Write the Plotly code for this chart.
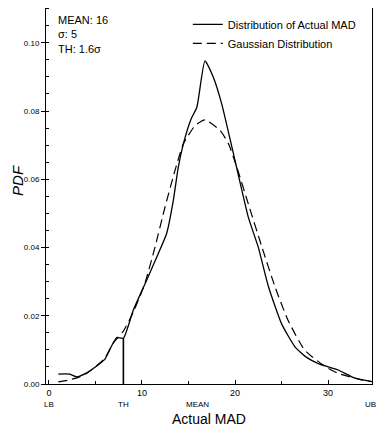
import plotly.graph_objects as go

# Distribution of actual MAD (solid)
actual_x = [1.0, 2.2, 3.0, 4.0, 4.8, 6.0, 6.8, 7.3, 8.0, 9.06, 10.5, 11.75, 12.65, 13.37, 13.9,
            14.45, 15.3, 15.9, 16.77, 17.67, 18.57, 20.0, 21.43, 22.5, 23.6, 25.0, 26.45, 27.7,
            28.96, 31.1, 32.9, 34.7]
actual_y = [0.0029, 0.0029, 0.0021, 0.0032, 0.0046, 0.0072, 0.0115, 0.0136, 0.0134, 0.0216,
            0.0304, 0.0382, 0.0441, 0.0538, 0.0635, 0.0704, 0.0778, 0.0811, 0.0947, 0.0899,
            0.0821, 0.0655, 0.0489, 0.0401, 0.0285, 0.0177, 0.0109, 0.0078, 0.0060, 0.0041,
            0.0017, 0.0007]

# Gaussian distribution (dashed)
gauss_x = [1.0, 2.0, 3.0, 4.0, 4.8, 6.0, 6.9, 7.45, 8.0, 9.06, 10.3, 11.4, 12.47, 13.55, 14.45,
           15.7, 16.77, 18.4, 19.3, 20.2, 21.43, 22.9, 24.3, 25.7, 27.5, 29.7, 31.1, 33.6, 34.7]
gauss_y = [0.0006, 0.0011, 0.0018, 0.0030, 0.0046, 0.0075, 0.0120, 0.0138, 0.0155, 0.0210,
           0.0294, 0.0401, 0.0518, 0.0626, 0.0704, 0.0757, 0.0774, 0.0743, 0.0704, 0.0635,
           0.0528, 0.0401, 0.0285, 0.0187, 0.0099, 0.0051, 0.0031, 0.0012, 0.0007]

# Threshold marker
th_x = 8.0
th_y = 0.0134

x_tickvals = [0, 10, 20, 30]
x_ticktext = ["0", "10", "20", "30"]
y_tickvals = [0.00, 0.02, 0.04, 0.06, 0.08, 0.10]
y_ticktext = ["0.00", "0.02", "0.04", "0.06", "0.08", "0.10"]

marker_labels = ["LB", "TH", "MEAN", "UB"]
marker_pos = [0.0, 8.0, 16.0, 34.6]

info_lines = ["MEAN: 16", "σ: 5", "TH: 1.6σ"]

FONT = "Liberation Sans, Arial, sans-serif"

fig = go.Figure()
fig.add_trace(go.Scatter(x=actual_x, y=actual_y, mode="lines",
                         line=dict(color="black", width=1.3, shape="spline", smoothing=0.5),
                         name="Distribution of Actual MAD"))
fig.add_trace(go.Scatter(x=gauss_x, y=gauss_y, mode="lines",
                         line=dict(color="black", width=1.2, dash="9px,5px",
                                   shape="spline", smoothing=0.5),
                         name="Gaussian Distribution"))
fig.add_trace(go.Scatter(x=[th_x, th_x], y=[0, th_y], mode="lines",
                         line=dict(color="black", width=1.6), showlegend=False,
                         hoverinfo="skip"))

for lab, pos in zip(marker_labels, marker_pos):
    fig.add_annotation(x=pos, y=0, xref="x", yref="paper", yshift=-14,
                       text=lab, showarrow=False, yanchor="top",
                       font=dict(size=8, color="black", family=FONT))

fig.add_annotation(x=0.5, y=0, xref="paper", yref="paper", yshift=-25,
                   text="Actual MAD", showarrow=False, yanchor="top",
                   font=dict(size=14, color="black", family=FONT))
fig.add_annotation(x=0, y=0.54, xref="paper", yref="paper", xshift=-28,
                   text="<i>PDF</i>", showarrow=False, textangle=-90,
                   xanchor="center", yanchor="middle",
                   font=dict(size=15, color="black", family=FONT))

fig.add_annotation(x=0.03, y=0.99, xref="paper", yref="paper",
                   text="<br>".join(info_lines), showarrow=False, align="left",
                   xanchor="left", yanchor="top",
                   font=dict(size=11, color="black", family=FONT))

# Page body adds an 8px offset, so the figure is 8px smaller than the window
fig.update_layout(
    width=380, height=419,
    margin=dict(l=38, r=16, t=0, b=43),
    paper_bgcolor="white", plot_bgcolor="white",
    font=dict(family=FONT, color="black"),
    showlegend=True,
    legend=dict(x=0.435, y=0.995, xanchor="left", yanchor="top",
                bgcolor="rgba(0,0,0,0)", font=dict(size=11, family=FONT),
                itemwidth=30, tracegroupgap=0),
    xaxis=dict(range=[-0.32, 34.73], tickvals=x_tickvals, ticktext=x_ticktext,
               showgrid=False, zeroline=False, showline=True, linecolor="black",
               linewidth=1, mirror=True, ticks="inside", ticklen=4, tickcolor="black",
               tickfont=dict(size=9), automargin=False,
               minor=dict(dtick=5, ticks="inside", ticklen=3, tickcolor="black")),
    yaxis=dict(range=[0, 0.1102], tickvals=y_tickvals, ticktext=y_ticktext,
               showgrid=False, zeroline=False, showline=True, linecolor="black",
               linewidth=1, mirror=True, ticks="outside", ticklen=4, tickcolor="black",
               tickfont=dict(size=8), automargin=False,
               minor=dict(dtick=0.005, ticks="inside", ticklen=3, tickcolor="black")),
)

fig.write_html("out.html")
